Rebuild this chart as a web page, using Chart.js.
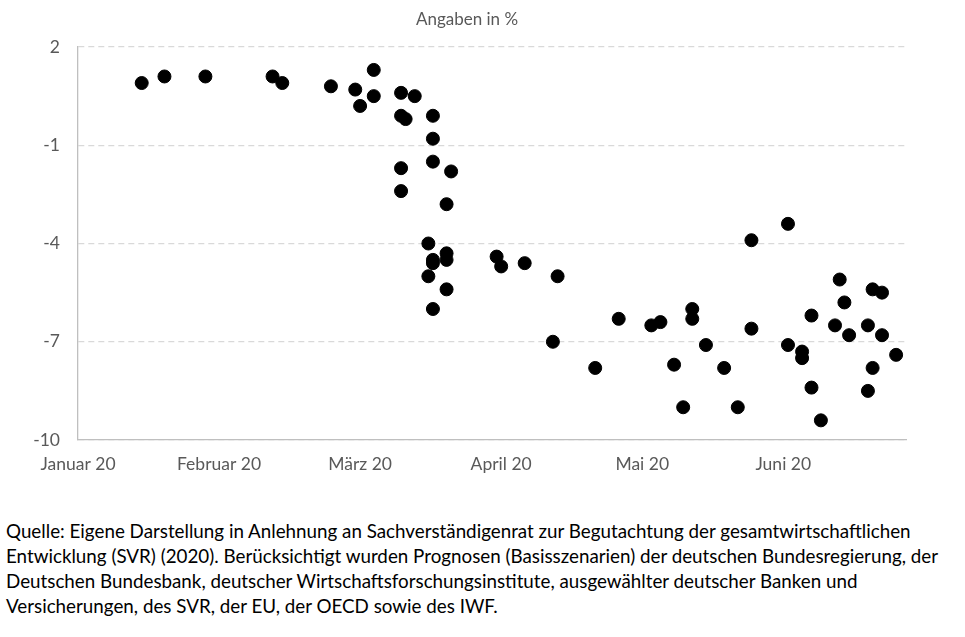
<!DOCTYPE html>
<html>
<head>
<meta charset="utf-8">
<script src="https://cdn.jsdelivr.net/npm/chart.js@4.4.1/dist/chart.umd.min.js"></script>
<style>
  body { margin: 0; background: #fff; width: 965px; height: 637px; overflow: hidden; }
  #wrap { width: 965px; height: 500px; }
  #quelle {
    font-family: Lato, "Open Sans", sans-serif;
    font-size: 18.8px;
    line-height: 25px;
    color: #000;
    margin: 18px 0 0 6px;
    white-space: nowrap;
  }
</style>
</head>
<body>
<div id="wrap"><canvas id="prognosen" width="965" height="500"></canvas></div>
<div id="quelle">Quelle: Eigene Darstellung in Anlehnung an Sachverständigenrat zur Begutachtung der gesamtwirtschaftlichen<br>Entwicklung (SVR) (2020). Berücksichtigt wurden Prognosen (Basisszenarien) der deutschen Bundesregierung, der<br>Deutschen Bundesbank, deutscher Wirtschaftsforschungsinstitute, ausgewählter deutscher Banken und<br>Versicherungen, des SVR, der EU, der OECD sowie des IWF.</div>
<script>
// Veröffentlichungsdatum der Prognose und prognostizierte BIP-Veränderung (%)
const dates = [
  "2020-01-15", "2020-01-20", "2020-01-29", "2020-02-12", "2020-02-14",
  "2020-02-24", "2020-02-29", "2020-03-04", "2020-03-04", "2020-03-01",
  "2020-03-10", "2020-03-13", "2020-03-10", "2020-03-11", "2020-03-17",
  "2020-03-17", "2020-03-10", "2020-03-17", "2020-03-21", "2020-03-10",
  "2020-03-20", "2020-03-16", "2020-03-20", "2020-03-17", "2020-03-20",
  "2020-03-17", "2020-03-16", "2020-03-20", "2020-03-17", "2020-03-31",
  "2020-04-01", "2020-04-06", "2020-04-13", "2020-04-12", "2020-04-21",
  "2020-04-26", "2020-05-03", "2020-05-05", "2020-05-12", "2020-05-12",
  "2020-05-15", "2020-05-08", "2020-05-10", "2020-05-19", "2020-05-22",
  "2020-05-25", "2020-06-02", "2020-05-25", "2020-06-02", "2020-06-05",
  "2020-06-05", "2020-06-07", "2020-06-09", "2020-06-07", "2020-06-13",
  "2020-06-14", "2020-06-12", "2020-06-15", "2020-06-20", "2020-06-22",
  "2020-06-19", "2020-06-22", "2020-06-20", "2020-06-19", "2020-06-25"
];
const values = [
  0.9, 1.1, 1.1, 1.1, 0.9,
  0.8, 0.7, 1.3, 0.5, 0.2,
  0.6, 0.5, -0.1, -0.2, -0.1,
  -0.8, -1.7, -1.5, -1.8, -2.4,
  -2.8, -4.0, -4.3, -4.5, -4.5,
  -4.6, -5.0, -5.4, -6.0, -4.4,
  -4.7, -4.6, -5.0, -7.0, -7.8,
  -6.3, -6.5, -6.4, -6.0, -6.3,
  -7.1, -7.7, -9.0, -7.8, -9.0,
  -3.9, -3.4, -6.6, -7.1, -7.3,
  -7.5, -8.4, -9.4, -6.2, -5.1,
  -5.8, -6.5, -6.8, -5.4, -5.5,
  -6.5, -6.8, -7.8, -8.5, -7.4
];
const monthLabels = ["Januar 20", "Februar 20", "März 20", "April 20", "Mai 20", "Juni 20"];
const yTicks = [2, -1, -4, -7, -10];

// Monate sind in der Vorlage gleich breit: Monatsindex + Anteil des Monats
function monthPos(s) {
  const [y, m, d] = s.split("-").map(Number);
  const days = new Date(y, m, 0).getDate();
  return (m - 1) + (d - 1) / days;
}

const points = dates.map((d, i) => ({ x: monthPos(d), y: values[i] }));

const grey = "#595959";
const tickFont = { family: "Lato, 'Open Sans', sans-serif", size: 17.5 };

new Chart("prognosen", {
  type: "scatter",
  data: {
    datasets: [{
      data: points,
      backgroundColor: "#000",
      borderColor: "#000",
      pointRadius: 6.5,
      pointHoverRadius: 6.5
    }]
  },
  options: {
    responsive: false,
    animation: false,
    layout: { padding: { left: 28, right: 59, top: 0, bottom: 19 } },
    plugins: {
      legend: { display: false },
      tooltip: { enabled: false },
      title: {
        display: true,
        text: "Angaben in %",
        color: grey,
        font: { family: "Lato, 'Open Sans', sans-serif", size: 17, weight: "normal" },
        padding: { top: 9, bottom: 17.6 }
      }
    },
    scales: {
      x: {
        type: "linear",
        min: 0,
        max: 5.87,
        afterBuildTicks: (s) => { s.ticks = monthLabels.map((_, i) => ({ value: i })); },
        ticks: {
          color: grey,
          font: tickFont,
          padding: 6,
          maxRotation: 0,
          callback: (v) => monthLabels[v]
        },
        grid: { display: false },
        border: { display: true, color: "#bfbfbf", width: 1.3 }
      },
      y: {
        min: -10,
        max: 2,
        afterBuildTicks: (s) => { s.ticks = yTicks.map((v) => ({ value: v })); },
        afterFit: (s) => { s.width = 50; },
        ticks: { color: grey, font: tickFont, padding: 18 },
        grid: { color: "#d9d9d9", lineWidth: 1.3, drawTicks: false },
        border: { display: true, color: "#bfbfbf", width: 1.3, dash: [6, 4] }
      }
    }
  }
});
</script>
</body>
</html>
